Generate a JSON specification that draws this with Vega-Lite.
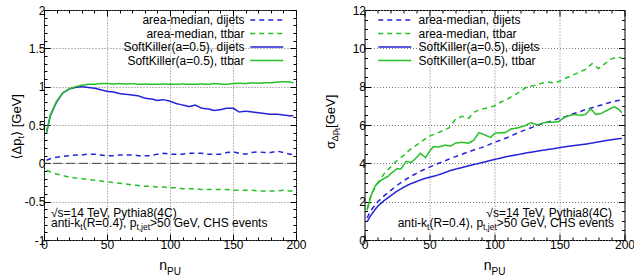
{
  "$schema": "https://vega.github.io/schema/vega-lite/v6.json",
  "padding": {"left": 10, "top": 3, "right": 0, "bottom": 0},
  "spacing": 16.5,
  "config": {
    "font": "Liberation Sans",
    "view": {"stroke": "black", "strokeWidth": 1},
    "text": {"font": "Liberation Sans, DejaVu Sans", "color": "black"}
  },
  "resolve": {
    "scale": {"color": "independent", "strokeDash": "independent"},
    "legend": {"color": "independent", "strokeDash": "independent"}
  },
  "datasets": {
    "mean": [
      {"n":2,"v":0.04,"s":"area-median, dijets"},{"n":5,"v":0.06,"s":"area-median, dijets"},{"n":10,"v":0.08,"s":"area-median, dijets"},{"n":15,"v":0.09,"s":"area-median, dijets"},{"n":20,"v":0.10,"s":"area-median, dijets"},{"n":25,"v":0.11,"s":"area-median, dijets"},{"n":30,"v":0.11,"s":"area-median, dijets"},{"n":35,"v":0.12,"s":"area-median, dijets"},{"n":40,"v":0.12,"s":"area-median, dijets"},{"n":45,"v":0.11,"s":"area-median, dijets"},{"n":50,"v":0.10,"s":"area-median, dijets"},{"n":55,"v":0.10,"s":"area-median, dijets"},{"n":60,"v":0.11,"s":"area-median, dijets"},{"n":65,"v":0.11,"s":"area-median, dijets"},{"n":70,"v":0.11,"s":"area-median, dijets"},{"n":75,"v":0.10,"s":"area-median, dijets"},{"n":80,"v":0.10,"s":"area-median, dijets"},{"n":85,"v":0.10,"s":"area-median, dijets"},{"n":90,"v":0.12,"s":"area-median, dijets"},{"n":95,"v":0.13,"s":"area-median, dijets"},{"n":100,"v":0.12,"s":"area-median, dijets"},{"n":105,"v":0.12,"s":"area-median, dijets"},{"n":110,"v":0.12,"s":"area-median, dijets"},{"n":115,"v":0.13,"s":"area-median, dijets"},{"n":120,"v":0.13,"s":"area-median, dijets"},{"n":125,"v":0.13,"s":"area-median, dijets"},{"n":130,"v":0.12,"s":"area-median, dijets"},{"n":135,"v":0.12,"s":"area-median, dijets"},{"n":140,"v":0.12,"s":"area-median, dijets"},{"n":145,"v":0.14,"s":"area-median, dijets"},{"n":150,"v":0.15,"s":"area-median, dijets"},{"n":155,"v":0.13,"s":"area-median, dijets"},{"n":160,"v":0.12,"s":"area-median, dijets"},{"n":165,"v":0.14,"s":"area-median, dijets"},{"n":170,"v":0.15,"s":"area-median, dijets"},{"n":175,"v":0.14,"s":"area-median, dijets"},{"n":180,"v":0.14,"s":"area-median, dijets"},{"n":185,"v":0.16,"s":"area-median, dijets"},{"n":190,"v":0.14,"s":"area-median, dijets"},{"n":195,"v":0.12,"s":"area-median, dijets"},{"n":198,"v":0.12,"s":"area-median, dijets"},
      {"n":2,"v":-0.09,"s":"area-median, ttbar"},{"n":5,"v":-0.11,"s":"area-median, ttbar"},{"n":10,"v":-0.14,"s":"area-median, ttbar"},{"n":15,"v":-0.16,"s":"area-median, ttbar"},{"n":20,"v":-0.18,"s":"area-median, ttbar"},{"n":25,"v":-0.19,"s":"area-median, ttbar"},{"n":30,"v":-0.20,"s":"area-median, ttbar"},{"n":35,"v":-0.21,"s":"area-median, ttbar"},{"n":40,"v":-0.22,"s":"area-median, ttbar"},{"n":45,"v":-0.23,"s":"area-median, ttbar"},{"n":50,"v":-0.24,"s":"area-median, ttbar"},{"n":55,"v":-0.25,"s":"area-median, ttbar"},{"n":60,"v":-0.26,"s":"area-median, ttbar"},{"n":65,"v":-0.27,"s":"area-median, ttbar"},{"n":70,"v":-0.28,"s":"area-median, ttbar"},{"n":75,"v":-0.29,"s":"area-median, ttbar"},{"n":80,"v":-0.30,"s":"area-median, ttbar"},{"n":85,"v":-0.30,"s":"area-median, ttbar"},{"n":90,"v":-0.31,"s":"area-median, ttbar"},{"n":95,"v":-0.31,"s":"area-median, ttbar"},{"n":100,"v":-0.32,"s":"area-median, ttbar"},{"n":105,"v":-0.32,"s":"area-median, ttbar"},{"n":110,"v":-0.33,"s":"area-median, ttbar"},{"n":115,"v":-0.33,"s":"area-median, ttbar"},{"n":120,"v":-0.33,"s":"area-median, ttbar"},{"n":125,"v":-0.34,"s":"area-median, ttbar"},{"n":130,"v":-0.34,"s":"area-median, ttbar"},{"n":135,"v":-0.34,"s":"area-median, ttbar"},{"n":140,"v":-0.34,"s":"area-median, ttbar"},{"n":145,"v":-0.34,"s":"area-median, ttbar"},{"n":150,"v":-0.35,"s":"area-median, ttbar"},{"n":155,"v":-0.35,"s":"area-median, ttbar"},{"n":160,"v":-0.35,"s":"area-median, ttbar"},{"n":165,"v":-0.35,"s":"area-median, ttbar"},{"n":170,"v":-0.36,"s":"area-median, ttbar"},{"n":175,"v":-0.36,"s":"area-median, ttbar"},{"n":180,"v":-0.36,"s":"area-median, ttbar"},{"n":185,"v":-0.36,"s":"area-median, ttbar"},{"n":190,"v":-0.35,"s":"area-median, ttbar"},{"n":195,"v":-0.36,"s":"area-median, ttbar"},{"n":198,"v":-0.36,"s":"area-median, ttbar"},
      {"n":2,"v":0.40,"s":"SoftKiller(a=0.5), dijets"},{"n":5,"v":0.62,"s":"SoftKiller(a=0.5), dijets"},{"n":10,"v":0.80,"s":"SoftKiller(a=0.5), dijets"},{"n":15,"v":0.92,"s":"SoftKiller(a=0.5), dijets"},{"n":20,"v":0.97,"s":"SoftKiller(a=0.5), dijets"},{"n":25,"v":0.99,"s":"SoftKiller(a=0.5), dijets"},{"n":30,"v":1.00,"s":"SoftKiller(a=0.5), dijets"},{"n":35,"v":0.99,"s":"SoftKiller(a=0.5), dijets"},{"n":40,"v":0.98,"s":"SoftKiller(a=0.5), dijets"},{"n":45,"v":0.96,"s":"SoftKiller(a=0.5), dijets"},{"n":50,"v":0.94,"s":"SoftKiller(a=0.5), dijets"},{"n":55,"v":0.93,"s":"SoftKiller(a=0.5), dijets"},{"n":60,"v":0.91,"s":"SoftKiller(a=0.5), dijets"},{"n":65,"v":0.90,"s":"SoftKiller(a=0.5), dijets"},{"n":70,"v":0.89,"s":"SoftKiller(a=0.5), dijets"},{"n":75,"v":0.88,"s":"SoftKiller(a=0.5), dijets"},{"n":80,"v":0.85,"s":"SoftKiller(a=0.5), dijets"},{"n":85,"v":0.84,"s":"SoftKiller(a=0.5), dijets"},{"n":90,"v":0.82,"s":"SoftKiller(a=0.5), dijets"},{"n":95,"v":0.83,"s":"SoftKiller(a=0.5), dijets"},{"n":100,"v":0.81,"s":"SoftKiller(a=0.5), dijets"},{"n":105,"v":0.78,"s":"SoftKiller(a=0.5), dijets"},{"n":110,"v":0.76,"s":"SoftKiller(a=0.5), dijets"},{"n":115,"v":0.74,"s":"SoftKiller(a=0.5), dijets"},{"n":120,"v":0.76,"s":"SoftKiller(a=0.5), dijets"},{"n":125,"v":0.72,"s":"SoftKiller(a=0.5), dijets"},{"n":130,"v":0.71,"s":"SoftKiller(a=0.5), dijets"},{"n":135,"v":0.69,"s":"SoftKiller(a=0.5), dijets"},{"n":140,"v":0.70,"s":"SoftKiller(a=0.5), dijets"},{"n":145,"v":0.72,"s":"SoftKiller(a=0.5), dijets"},{"n":150,"v":0.72,"s":"SoftKiller(a=0.5), dijets"},{"n":155,"v":0.67,"s":"SoftKiller(a=0.5), dijets"},{"n":160,"v":0.68,"s":"SoftKiller(a=0.5), dijets"},{"n":165,"v":0.67,"s":"SoftKiller(a=0.5), dijets"},{"n":170,"v":0.66,"s":"SoftKiller(a=0.5), dijets"},{"n":175,"v":0.65,"s":"SoftKiller(a=0.5), dijets"},{"n":180,"v":0.64,"s":"SoftKiller(a=0.5), dijets"},{"n":185,"v":0.64,"s":"SoftKiller(a=0.5), dijets"},{"n":190,"v":0.63,"s":"SoftKiller(a=0.5), dijets"},{"n":195,"v":0.62,"s":"SoftKiller(a=0.5), dijets"},{"n":198,"v":0.62,"s":"SoftKiller(a=0.5), dijets"},
      {"n":2,"v":0.40,"s":"SoftKiller(a=0.5), ttbar"},{"n":5,"v":0.63,"s":"SoftKiller(a=0.5), ttbar"},{"n":10,"v":0.81,"s":"SoftKiller(a=0.5), ttbar"},{"n":15,"v":0.92,"s":"SoftKiller(a=0.5), ttbar"},{"n":20,"v":0.97,"s":"SoftKiller(a=0.5), ttbar"},{"n":25,"v":1.00,"s":"SoftKiller(a=0.5), ttbar"},{"n":30,"v":1.02,"s":"SoftKiller(a=0.5), ttbar"},{"n":35,"v":1.03,"s":"SoftKiller(a=0.5), ttbar"},{"n":40,"v":1.03,"s":"SoftKiller(a=0.5), ttbar"},{"n":45,"v":1.04,"s":"SoftKiller(a=0.5), ttbar"},{"n":50,"v":1.04,"s":"SoftKiller(a=0.5), ttbar"},{"n":55,"v":1.035,"s":"SoftKiller(a=0.5), ttbar"},{"n":60,"v":1.04,"s":"SoftKiller(a=0.5), ttbar"},{"n":65,"v":1.035,"s":"SoftKiller(a=0.5), ttbar"},{"n":70,"v":1.04,"s":"SoftKiller(a=0.5), ttbar"},{"n":75,"v":1.03,"s":"SoftKiller(a=0.5), ttbar"},{"n":80,"v":1.035,"s":"SoftKiller(a=0.5), ttbar"},{"n":85,"v":1.03,"s":"SoftKiller(a=0.5), ttbar"},{"n":90,"v":1.03,"s":"SoftKiller(a=0.5), ttbar"},{"n":95,"v":1.035,"s":"SoftKiller(a=0.5), ttbar"},{"n":100,"v":1.03,"s":"SoftKiller(a=0.5), ttbar"},{"n":105,"v":1.03,"s":"SoftKiller(a=0.5), ttbar"},{"n":110,"v":1.035,"s":"SoftKiller(a=0.5), ttbar"},{"n":115,"v":1.03,"s":"SoftKiller(a=0.5), ttbar"},{"n":120,"v":1.03,"s":"SoftKiller(a=0.5), ttbar"},{"n":125,"v":1.035,"s":"SoftKiller(a=0.5), ttbar"},{"n":130,"v":1.03,"s":"SoftKiller(a=0.5), ttbar"},{"n":135,"v":1.04,"s":"SoftKiller(a=0.5), ttbar"},{"n":140,"v":1.035,"s":"SoftKiller(a=0.5), ttbar"},{"n":145,"v":1.03,"s":"SoftKiller(a=0.5), ttbar"},{"n":150,"v":1.04,"s":"SoftKiller(a=0.5), ttbar"},{"n":155,"v":1.045,"s":"SoftKiller(a=0.5), ttbar"},{"n":160,"v":1.04,"s":"SoftKiller(a=0.5), ttbar"},{"n":165,"v":1.05,"s":"SoftKiller(a=0.5), ttbar"},{"n":170,"v":1.045,"s":"SoftKiller(a=0.5), ttbar"},{"n":175,"v":1.05,"s":"SoftKiller(a=0.5), ttbar"},{"n":180,"v":1.05,"s":"SoftKiller(a=0.5), ttbar"},{"n":185,"v":1.06,"s":"SoftKiller(a=0.5), ttbar"},{"n":190,"v":1.065,"s":"SoftKiller(a=0.5), ttbar"},{"n":195,"v":1.06,"s":"SoftKiller(a=0.5), ttbar"},{"n":198,"v":1.05,"s":"SoftKiller(a=0.5), ttbar"}
    ],
    "sigma": [
      {"n":2,"v":1.15,"s":"area-median, dijets"},{"n":5,"v":1.55,"s":"area-median, dijets"},{"n":10,"v":1.98,"s":"area-median, dijets"},{"n":15,"v":2.3,"s":"area-median, dijets"},{"n":20,"v":2.58,"s":"area-median, dijets"},{"n":25,"v":2.85,"s":"area-median, dijets"},{"n":30,"v":3.08,"s":"area-median, dijets"},{"n":35,"v":3.3,"s":"area-median, dijets"},{"n":40,"v":3.48,"s":"area-median, dijets"},{"n":45,"v":3.65,"s":"area-median, dijets"},{"n":50,"v":3.8,"s":"area-median, dijets"},{"n":55,"v":3.95,"s":"area-median, dijets"},{"n":60,"v":4.08,"s":"area-median, dijets"},{"n":65,"v":4.22,"s":"area-median, dijets"},{"n":70,"v":4.35,"s":"area-median, dijets"},{"n":75,"v":4.47,"s":"area-median, dijets"},{"n":80,"v":4.6,"s":"area-median, dijets"},{"n":85,"v":4.72,"s":"area-median, dijets"},{"n":90,"v":4.82,"s":"area-median, dijets"},{"n":95,"v":4.95,"s":"area-median, dijets"},{"n":100,"v":5.1,"s":"area-median, dijets"},{"n":105,"v":5.22,"s":"area-median, dijets"},{"n":110,"v":5.35,"s":"area-median, dijets"},{"n":115,"v":5.5,"s":"area-median, dijets"},{"n":120,"v":5.65,"s":"area-median, dijets"},{"n":125,"v":5.78,"s":"area-median, dijets"},{"n":130,"v":5.9,"s":"area-median, dijets"},{"n":135,"v":6.02,"s":"area-median, dijets"},{"n":140,"v":6.13,"s":"area-median, dijets"},{"n":145,"v":6.24,"s":"area-median, dijets"},{"n":150,"v":6.35,"s":"area-median, dijets"},{"n":155,"v":6.45,"s":"area-median, dijets"},{"n":160,"v":6.57,"s":"area-median, dijets"},{"n":165,"v":6.68,"s":"area-median, dijets"},{"n":170,"v":6.8,"s":"area-median, dijets"},{"n":175,"v":6.9,"s":"area-median, dijets"},{"n":180,"v":7.0,"s":"area-median, dijets"},{"n":185,"v":7.1,"s":"area-median, dijets"},{"n":190,"v":7.2,"s":"area-median, dijets"},{"n":195,"v":7.28,"s":"area-median, dijets"},{"n":198,"v":7.3,"s":"area-median, dijets"},
      {"n":2,"v":1.6,"s":"area-median, ttbar"},{"n":5,"v":2.35,"s":"area-median, ttbar"},{"n":10,"v":2.95,"s":"area-median, ttbar"},{"n":15,"v":3.45,"s":"area-median, ttbar"},{"n":20,"v":3.8,"s":"area-median, ttbar"},{"n":25,"v":4.15,"s":"area-median, ttbar"},{"n":30,"v":4.4,"s":"area-median, ttbar"},{"n":35,"v":4.72,"s":"area-median, ttbar"},{"n":40,"v":4.95,"s":"area-median, ttbar"},{"n":45,"v":5.2,"s":"area-median, ttbar"},{"n":50,"v":5.42,"s":"area-median, ttbar"},{"n":55,"v":5.55,"s":"area-median, ttbar"},{"n":60,"v":5.7,"s":"area-median, ttbar"},{"n":65,"v":5.85,"s":"area-median, ttbar"},{"n":70,"v":6.3,"s":"area-median, ttbar"},{"n":75,"v":6.45,"s":"area-median, ttbar"},{"n":80,"v":6.35,"s":"area-median, ttbar"},{"n":85,"v":6.7,"s":"area-median, ttbar"},{"n":90,"v":6.82,"s":"area-median, ttbar"},{"n":95,"v":6.9,"s":"area-median, ttbar"},{"n":100,"v":7.0,"s":"area-median, ttbar"},{"n":105,"v":7.2,"s":"area-median, ttbar"},{"n":110,"v":7.35,"s":"area-median, ttbar"},{"n":115,"v":7.55,"s":"area-median, ttbar"},{"n":120,"v":7.75,"s":"area-median, ttbar"},{"n":125,"v":8.0,"s":"area-median, ttbar"},{"n":130,"v":8.05,"s":"area-median, ttbar"},{"n":135,"v":8.15,"s":"area-median, ttbar"},{"n":140,"v":8.25,"s":"area-median, ttbar"},{"n":145,"v":8.2,"s":"area-median, ttbar"},{"n":150,"v":8.28,"s":"area-median, ttbar"},{"n":155,"v":8.45,"s":"area-median, ttbar"},{"n":160,"v":8.6,"s":"area-median, ttbar"},{"n":165,"v":8.75,"s":"area-median, ttbar"},{"n":170,"v":8.9,"s":"area-median, ttbar"},{"n":175,"v":9.2,"s":"area-median, ttbar"},{"n":180,"v":8.95,"s":"area-median, ttbar"},{"n":185,"v":9.2,"s":"area-median, ttbar"},{"n":190,"v":9.45,"s":"area-median, ttbar"},{"n":195,"v":9.55,"s":"area-median, ttbar"},{"n":198,"v":9.5,"s":"area-median, ttbar"},
      {"n":2,"v":0.95,"s":"SoftKiller(a=0.5), dijets"},{"n":5,"v":1.3,"s":"SoftKiller(a=0.5), dijets"},{"n":10,"v":1.75,"s":"SoftKiller(a=0.5), dijets"},{"n":15,"v":2.05,"s":"SoftKiller(a=0.5), dijets"},{"n":20,"v":2.3,"s":"SoftKiller(a=0.5), dijets"},{"n":25,"v":2.55,"s":"SoftKiller(a=0.5), dijets"},{"n":30,"v":2.75,"s":"SoftKiller(a=0.5), dijets"},{"n":35,"v":2.92,"s":"SoftKiller(a=0.5), dijets"},{"n":40,"v":3.05,"s":"SoftKiller(a=0.5), dijets"},{"n":45,"v":3.18,"s":"SoftKiller(a=0.5), dijets"},{"n":50,"v":3.27,"s":"SoftKiller(a=0.5), dijets"},{"n":55,"v":3.36,"s":"SoftKiller(a=0.5), dijets"},{"n":60,"v":3.47,"s":"SoftKiller(a=0.5), dijets"},{"n":65,"v":3.6,"s":"SoftKiller(a=0.5), dijets"},{"n":70,"v":3.7,"s":"SoftKiller(a=0.5), dijets"},{"n":75,"v":3.78,"s":"SoftKiller(a=0.5), dijets"},{"n":80,"v":3.87,"s":"SoftKiller(a=0.5), dijets"},{"n":85,"v":3.95,"s":"SoftKiller(a=0.5), dijets"},{"n":90,"v":4.03,"s":"SoftKiller(a=0.5), dijets"},{"n":95,"v":4.12,"s":"SoftKiller(a=0.5), dijets"},{"n":100,"v":4.2,"s":"SoftKiller(a=0.5), dijets"},{"n":105,"v":4.28,"s":"SoftKiller(a=0.5), dijets"},{"n":110,"v":4.36,"s":"SoftKiller(a=0.5), dijets"},{"n":115,"v":4.42,"s":"SoftKiller(a=0.5), dijets"},{"n":120,"v":4.48,"s":"SoftKiller(a=0.5), dijets"},{"n":125,"v":4.55,"s":"SoftKiller(a=0.5), dijets"},{"n":130,"v":4.6,"s":"SoftKiller(a=0.5), dijets"},{"n":135,"v":4.66,"s":"SoftKiller(a=0.5), dijets"},{"n":140,"v":4.71,"s":"SoftKiller(a=0.5), dijets"},{"n":145,"v":4.76,"s":"SoftKiller(a=0.5), dijets"},{"n":150,"v":4.82,"s":"SoftKiller(a=0.5), dijets"},{"n":155,"v":4.87,"s":"SoftKiller(a=0.5), dijets"},{"n":160,"v":4.92,"s":"SoftKiller(a=0.5), dijets"},{"n":165,"v":4.96,"s":"SoftKiller(a=0.5), dijets"},{"n":170,"v":5.0,"s":"SoftKiller(a=0.5), dijets"},{"n":175,"v":5.06,"s":"SoftKiller(a=0.5), dijets"},{"n":180,"v":5.12,"s":"SoftKiller(a=0.5), dijets"},{"n":185,"v":5.18,"s":"SoftKiller(a=0.5), dijets"},{"n":190,"v":5.23,"s":"SoftKiller(a=0.5), dijets"},{"n":195,"v":5.28,"s":"SoftKiller(a=0.5), dijets"},{"n":198,"v":5.3,"s":"SoftKiller(a=0.5), dijets"},
      {"n":2,"v":1.55,"s":"SoftKiller(a=0.5), ttbar"},{"n":5,"v":2.3,"s":"SoftKiller(a=0.5), ttbar"},{"n":8,"v":2.8,"s":"SoftKiller(a=0.5), ttbar"},{"n":10,"v":2.95,"s":"SoftKiller(a=0.5), ttbar"},{"n":13,"v":3.13,"s":"SoftKiller(a=0.5), ttbar"},{"n":15,"v":3.2,"s":"SoftKiller(a=0.5), ttbar"},{"n":18,"v":3.32,"s":"SoftKiller(a=0.5), ttbar"},{"n":20,"v":3.45,"s":"SoftKiller(a=0.5), ttbar"},{"n":25,"v":3.72,"s":"SoftKiller(a=0.5), ttbar"},{"n":28,"v":3.7,"s":"SoftKiller(a=0.5), ttbar"},{"n":32,"v":4.1,"s":"SoftKiller(a=0.5), ttbar"},{"n":36,"v":4.05,"s":"SoftKiller(a=0.5), ttbar"},{"n":40,"v":4.3,"s":"SoftKiller(a=0.5), ttbar"},{"n":43,"v":4.52,"s":"SoftKiller(a=0.5), ttbar"},{"n":47,"v":4.3,"s":"SoftKiller(a=0.5), ttbar"},{"n":50,"v":4.62,"s":"SoftKiller(a=0.5), ttbar"},{"n":53,"v":4.87,"s":"SoftKiller(a=0.5), ttbar"},{"n":57,"v":4.85,"s":"SoftKiller(a=0.5), ttbar"},{"n":62,"v":4.95,"s":"SoftKiller(a=0.5), ttbar"},{"n":66,"v":4.9,"s":"SoftKiller(a=0.5), ttbar"},{"n":70,"v":5.05,"s":"SoftKiller(a=0.5), ttbar"},{"n":75,"v":5.1,"s":"SoftKiller(a=0.5), ttbar"},{"n":80,"v":5.05,"s":"SoftKiller(a=0.5), ttbar"},{"n":84,"v":5.2,"s":"SoftKiller(a=0.5), ttbar"},{"n":88,"v":5.6,"s":"SoftKiller(a=0.5), ttbar"},{"n":92,"v":5.5,"s":"SoftKiller(a=0.5), ttbar"},{"n":97,"v":5.35,"s":"SoftKiller(a=0.5), ttbar"},{"n":100,"v":5.55,"s":"SoftKiller(a=0.5), ttbar"},{"n":103,"v":5.6,"s":"SoftKiller(a=0.5), ttbar"},{"n":108,"v":5.6,"s":"SoftKiller(a=0.5), ttbar"},{"n":113,"v":5.8,"s":"SoftKiller(a=0.5), ttbar"},{"n":118,"v":5.85,"s":"SoftKiller(a=0.5), ttbar"},{"n":123,"v":5.95,"s":"SoftKiller(a=0.5), ttbar"},{"n":128,"v":6.12,"s":"SoftKiller(a=0.5), ttbar"},{"n":133,"v":6.0,"s":"SoftKiller(a=0.5), ttbar"},{"n":137,"v":6.1,"s":"SoftKiller(a=0.5), ttbar"},{"n":141,"v":6.15,"s":"SoftKiller(a=0.5), ttbar"},{"n":145,"v":6.15,"s":"SoftKiller(a=0.5), ttbar"},{"n":149,"v":6.17,"s":"SoftKiller(a=0.5), ttbar"},{"n":154,"v":6.4,"s":"SoftKiller(a=0.5), ttbar"},{"n":158,"v":6.5,"s":"SoftKiller(a=0.5), ttbar"},{"n":162,"v":6.55,"s":"SoftKiller(a=0.5), ttbar"},{"n":166,"v":6.5,"s":"SoftKiller(a=0.5), ttbar"},{"n":170,"v":6.55,"s":"SoftKiller(a=0.5), ttbar"},{"n":174,"v":6.85,"s":"SoftKiller(a=0.5), ttbar"},{"n":178,"v":6.55,"s":"SoftKiller(a=0.5), ttbar"},{"n":182,"v":6.6,"s":"SoftKiller(a=0.5), ttbar"},{"n":187,"v":6.78,"s":"SoftKiller(a=0.5), ttbar"},{"n":192,"v":6.95,"s":"SoftKiller(a=0.5), ttbar"},{"n":195,"v":6.85,"s":"SoftKiller(a=0.5), ttbar"},{"n":198,"v":6.64,"s":"SoftKiller(a=0.5), ttbar"}
    ]
  },
  "hconcat": [
    {
      "width": 252,
      "height": 230,
      "resolve": {"axis": {"x": "independent", "y": "independent"}},
      "layer": [
        {
          "data": {"name": "mean"},
          "mark": {"type": "line", "strokeWidth": 1.5},
          "encoding": {
            "x": {"field": "n", "type": "quantitative", "scale": {"domain": [0, 200], "nice": false, "zero": false},
              "axis": {"orient": "bottom", "title": null, "domain": false, "values": [0,10,20,30,40,50,60,70,80,90,100,110,120,130,140,150,160,170,180,190,200],
                "labelExpr": "datum.value % 50 === 0 ? toString(datum.value) : ''", "labelFlush": false, "labelOverlap": false, "labelFontSize": 12, "labelColor": "black", "labelPadding": 5,
                "tickColor": "black", "tickSize": {"condition": {"test": "datum.value % 50 === 0", "value": -6}, "value": -3},
                "grid": true, "gridColor": "#777777", "gridDash": [1, 2], "gridOpacity": {"condition": {"test": "datum.value % 50 === 0", "value": 1}, "value": 0}}},
            "y": {"field": "v", "type": "quantitative", "scale": {"domain": [-1, 2], "nice": false, "zero": false},
              "axis": {"orient": "left", "title": null, "domain": false, "values": [-1,-0.9,-0.8,-0.7,-0.6,-0.5,-0.4,-0.3,-0.2,-0.1,0,0.1,0.2,0.3,0.4,0.5,0.6,0.7,0.8,0.9,1,1.1,1.2,1.3,1.4,1.5,1.6,1.7,1.8,1.9,2],
                "labelExpr": "abs(datum.value * 2 - round(datum.value * 2)) < 0.000001 ? toString(datum.value) : ''", "labelOverlap": false, "labelFlush": false, "labelFontSize": 12, "labelColor": "black", "labelPadding": 5,
                "tickColor": "black", "tickSize": {"condition": {"test": "abs(datum.value * 2 - round(datum.value * 2)) < 0.000001", "value": -6}, "value": -3},
                "grid": true, "gridColor": "#777777", "gridDash": [1, 2], "gridOpacity": {"condition": {"test": "abs(datum.value * 2 - round(datum.value * 2)) < 0.000001", "value": 1}, "value": 0}}},
            "color": {"field": "s", "type": "nominal",
              "scale": {"domain": ["area-median, dijets", "area-median, ttbar", "SoftKiller(a=0.5), dijets", "SoftKiller(a=0.5), ttbar"], "range": ["#2323d8", "#25c025", "#2323d8", "#25c025"]},
              "legend": {"orient": "none", "legendX": 216.75, "legendY": 4, "title": null, "padding": 0, "rowPadding": 1.5, "symbolType": "M-3.3,0H3.3", "symbolSize": 100, "symbolStrokeWidth": 1.5, "labelFont": "Liberation Sans", "labelFontSize": 12, "labelColor": "black", "labelAlign": "right", "labelOffset": -28.25, "labelLimit": 300}},
            "strokeDash": {"field": "s", "type": "nominal",
              "scale": {"domain": ["area-median, dijets", "area-median, ttbar", "SoftKiller(a=0.5), dijets", "SoftKiller(a=0.5), ttbar"], "range": [[5, 4], [5, 4], [1, 0], [1, 0]]},
              "legend": {"orient": "none", "legendX": 216.75, "legendY": 4, "title": null, "padding": 0, "rowPadding": 1.5, "symbolType": "M-3.3,0H3.3", "symbolSize": 100, "symbolStrokeWidth": 1.5, "labelFont": "Liberation Sans", "labelFontSize": 12, "labelColor": "black", "labelAlign": "right", "labelOffset": -28.25, "labelLimit": 300}}
          }
        },
        {
          "data": {"values": [{}]},
          "mark": {"type": "rule", "stroke": "#444444", "strokeWidth": 1, "strokeDash": [9, 4]},
          "encoding": {"y": {"datum": 0, "type": "quantitative", "scale": {"domain": [-1, 2], "nice": false, "zero": false}, "axis": null}}
        },
        {
          "data": {"values": [{}]},
          "mark": {"type": "text", "text": "√s=14 TeV, Pythia8(4C)", "align": "left", "baseline": "alphabetic", "fontSize": 12, "dx": 7, "dy": -23},
          "encoding": {
            "x": {"datum": 0, "type": "quantitative", "scale": {"domain": [0, 200], "nice": false, "zero": false},
              "axis": {"orient": "top", "title": null, "labels": false, "domain": false, "grid": false, "values": [0,10,20,30,40,50,60,70,80,90,100,110,120,130,140,150,160,170,180,190,200],
                "tickColor": "black", "tickSize": {"condition": {"test": "datum.value % 50 === 0", "value": -6}, "value": -3}}},
            "y": {"datum": -1, "type": "quantitative", "scale": {"domain": [-1, 2], "nice": false, "zero": false},
              "axis": {"orient": "right", "title": null, "labels": false, "domain": false, "grid": false, "values": [-1,-0.9,-0.8,-0.7,-0.6,-0.5,-0.4,-0.3,-0.2,-0.1,0,0.1,0.2,0.3,0.4,0.5,0.6,0.7,0.8,0.9,1,1.1,1.2,1.3,1.4,1.5,1.6,1.7,1.8,1.9,2],
                "tickColor": "black", "tickSize": {"condition": {"test": "abs(datum.value * 2 - round(datum.value * 2)) < 0.000001", "value": -6}, "value": -3}}}
          }
        },
        {
          "data": {"values": [{}]},
          "layer": [
            {"mark": {"type": "text", "text": "anti-k", "align": "left", "baseline": "alphabetic", "fontSize": 12, "dx": 7, "dy": -13}},
            {"mark": {"type": "text", "text": "t", "align": "left", "baseline": "alphabetic", "fontSize": 8.5, "dx": 36.3, "dy": -10}},
            {"mark": {"type": "text", "text": "(R=0.4), p", "align": "left", "baseline": "alphabetic", "fontSize": 12, "dx": 38.7, "dy": -13}},
            {"mark": {"type": "text", "text": "t,jet", "align": "left", "baseline": "alphabetic", "fontSize": 8.5, "dx": 92.4, "dy": -10}},
            {"mark": {"type": "text", "text": ">50 GeV, CHS events", "align": "left", "baseline": "alphabetic", "fontSize": 12, "dx": 106.1, "dy": -13}}
          ],
          "encoding": {
            "x": {"datum": 0, "type": "quantitative", "scale": {"domain": [0, 200], "nice": false, "zero": false}, "axis": null},
            "y": {"datum": -1, "type": "quantitative", "scale": {"domain": [-1, 2], "nice": false, "zero": false}, "axis": null}
          }
        },
        {
          "data": {"values": [{}]},
          "layer": [
            {"mark": {"type": "text", "text": "⟨Δp", "align": "left", "baseline": "alphabetic", "fontSize": 13, "angle": 270, "dx": -34.5, "dy": -23.5}},
            {"mark": {"type": "text", "text": "t", "align": "left", "baseline": "alphabetic", "fontSize": 9, "angle": 270, "dx": -13.5, "dy": -20.5}},
            {"mark": {"type": "text", "text": "⟩ [GeV]", "align": "left", "baseline": "alphabetic", "fontSize": 13, "angle": 270, "dx": -11, "dy": -23.5}}
          ],
          "encoding": {
            "x": {"datum": 0, "type": "quantitative", "scale": {"domain": [0, 200], "nice": false, "zero": false}, "axis": null},
            "y": {"datum": 0.5, "type": "quantitative", "scale": {"domain": [-1, 2], "nice": false, "zero": false}, "axis": null}
          }
        },
        {
          "data": {"values": [{}]},
          "layer": [
            {"mark": {"type": "text", "text": "n", "align": "left", "baseline": "alphabetic", "fontSize": 14, "dx": -10.8, "dy": 30}},
            {"mark": {"type": "text", "text": "PU", "align": "left", "baseline": "alphabetic", "fontSize": 10, "dx": -3, "dy": 35}}
          ],
          "encoding": {
            "x": {"datum": 100, "type": "quantitative", "scale": {"domain": [0, 200], "nice": false, "zero": false}, "axis": null},
            "y": {"datum": -1, "type": "quantitative", "scale": {"domain": [-1, 2], "nice": false, "zero": false}, "axis": null}
          }
        }
      ]
    },
    {
      "width": 260,
      "height": 230,
      "resolve": {"axis": {"x": "independent", "y": "independent"}},
      "layer": [
        {
          "data": {"name": "sigma"},
          "mark": {"type": "line", "strokeWidth": 1.5},
          "encoding": {
            "x": {"field": "n", "type": "quantitative", "scale": {"domain": [0, 200], "nice": false, "zero": false},
              "axis": {"orient": "bottom", "title": null, "domain": false, "values": [0,10,20,30,40,50,60,70,80,90,100,110,120,130,140,150,160,170,180,190,200],
                "labelExpr": "datum.value % 50 === 0 ? toString(datum.value) : ''", "labelFlush": false, "labelOverlap": false, "labelFontSize": 12, "labelColor": "black", "labelPadding": 5,
                "tickColor": "black", "tickSize": {"condition": {"test": "datum.value % 50 === 0", "value": -6}, "value": -3},
                "grid": true, "gridColor": "#777777", "gridDash": [1, 2], "gridOpacity": {"condition": {"test": "datum.value % 50 === 0", "value": 1}, "value": 0}}},
            "y": {"field": "v", "type": "quantitative", "scale": {"domain": [0, 12], "nice": false, "zero": false},
              "axis": {"orient": "left", "title": null, "domain": false, "values": [0,0.5,1,1.5,2,2.5,3,3.5,4,4.5,5,5.5,6,6.5,7,7.5,8,8.5,9,9.5,10,10.5,11,11.5,12],
                "labelExpr": "datum.value % 2 === 0 ? toString(datum.value) : ''", "labelOverlap": false, "labelFlush": false, "labelFontSize": 12, "labelColor": "black", "labelPadding": 5,
                "tickColor": "black", "tickSize": {"condition": {"test": "datum.value % 2 === 0", "value": -6}, "value": -3},
                "grid": true, "gridColor": "#777777", "gridDash": [1, 2], "gridOpacity": {"condition": {"test": "datum.value % 2 === 0", "value": 1}, "value": 0}}},
            "color": {"field": "s", "type": "nominal",
              "scale": {"domain": ["area-median, dijets", "area-median, ttbar", "SoftKiller(a=0.5), dijets", "SoftKiller(a=0.5), ttbar"], "range": ["#2323d8", "#25c025", "#2323d8", "#25c025"]},
              "legend": {"orient": "none", "legendX": 24.25, "legendY": 4, "title": null, "padding": 0, "rowPadding": 1.5, "symbolType": "M-3.3,0H3.3", "symbolSize": 100, "symbolStrokeWidth": 1.5, "labelFont": "Liberation Sans", "labelFontSize": 12, "labelColor": "black", "labelAlign": "left", "labelOffset": 17.75, "labelLimit": 300}},
            "strokeDash": {"field": "s", "type": "nominal",
              "scale": {"domain": ["area-median, dijets", "area-median, ttbar", "SoftKiller(a=0.5), dijets", "SoftKiller(a=0.5), ttbar"], "range": [[5, 4], [5, 4], [1, 0], [1, 0]]},
              "legend": {"orient": "none", "legendX": 24.25, "legendY": 4, "title": null, "padding": 0, "rowPadding": 1.5, "symbolType": "M-3.3,0H3.3", "symbolSize": 100, "symbolStrokeWidth": 1.5, "labelFont": "Liberation Sans", "labelFontSize": 12, "labelColor": "black", "labelAlign": "left", "labelOffset": 17.75, "labelLimit": 300}}
          }
        },
        {
          "data": {"values": [{}]},
          "mark": {"type": "text", "text": "√s=14 TeV, Pythia8(4C)", "align": "right", "baseline": "alphabetic", "fontSize": 12, "dx": -12.5, "dy": -23},
          "encoding": {
            "x": {"datum": 200, "type": "quantitative", "scale": {"domain": [0, 200], "nice": false, "zero": false},
              "axis": {"orient": "top", "title": null, "labels": false, "domain": false, "grid": false, "values": [0,10,20,30,40,50,60,70,80,90,100,110,120,130,140,150,160,170,180,190,200],
                "tickColor": "black", "tickSize": {"condition": {"test": "datum.value % 50 === 0", "value": -6}, "value": -3}}},
            "y": {"datum": 0, "type": "quantitative", "scale": {"domain": [0, 12], "nice": false, "zero": false},
              "axis": {"orient": "right", "title": null, "labels": false, "domain": false, "grid": false, "values": [0,0.5,1,1.5,2,2.5,3,3.5,4,4.5,5,5.5,6,6.5,7,7.5,8,8.5,9,9.5,10,10.5,11,11.5,12],
                "tickColor": "black", "tickSize": {"condition": {"test": "datum.value % 2 === 0", "value": -6}, "value": -3}}}
          }
        },
        {
          "data": {"values": [{}]},
          "layer": [
            {"mark": {"type": "text", "text": "anti-k", "align": "left", "baseline": "alphabetic", "fontSize": 12, "dx": -226.8, "dy": -13}},
            {"mark": {"type": "text", "text": "t", "align": "left", "baseline": "alphabetic", "fontSize": 8.5, "dx": -197.5, "dy": -10}},
            {"mark": {"type": "text", "text": "(R=0.4), p", "align": "left", "baseline": "alphabetic", "fontSize": 12, "dx": -195.1, "dy": -13}},
            {"mark": {"type": "text", "text": "t,jet", "align": "left", "baseline": "alphabetic", "fontSize": 8.5, "dx": -141.4, "dy": -10}},
            {"mark": {"type": "text", "text": ">50 GeV, CHS events", "align": "left", "baseline": "alphabetic", "fontSize": 12, "dx": -127.7, "dy": -13}}
          ],
          "encoding": {
            "x": {"datum": 200, "type": "quantitative", "scale": {"domain": [0, 200], "nice": false, "zero": false}, "axis": null},
            "y": {"datum": 0, "type": "quantitative", "scale": {"domain": [0, 12], "nice": false, "zero": false}, "axis": null}
          }
        },
        {
          "data": {"values": [{}]},
          "layer": [
            {"mark": {"type": "text", "text": "σ", "align": "left", "baseline": "alphabetic", "fontSize": 13, "angle": 270, "dx": -24, "dy": -30}},
            {"mark": {"type": "text", "text": "Δp", "align": "left", "baseline": "alphabetic", "fontSize": 9.5, "angle": 270, "dx": -16.5, "dy": -26.5}},
            {"mark": {"type": "text", "text": "t", "align": "left", "baseline": "alphabetic", "fontSize": 7, "angle": 270, "dx": -4.9, "dy": -24.5}},
            {"mark": {"type": "text", "text": " [GeV]", "align": "left", "baseline": "alphabetic", "fontSize": 13, "angle": 270, "dx": -2.9, "dy": -30}}
          ],
          "encoding": {
            "x": {"datum": 0, "type": "quantitative", "scale": {"domain": [0, 200], "nice": false, "zero": false}, "axis": null},
            "y": {"datum": 6, "type": "quantitative", "scale": {"domain": [0, 12], "nice": false, "zero": false}, "axis": null}
          }
        },
        {
          "data": {"values": [{}]},
          "layer": [
            {"mark": {"type": "text", "text": "n", "align": "left", "baseline": "alphabetic", "fontSize": 14, "dx": -10.8, "dy": 30}},
            {"mark": {"type": "text", "text": "PU", "align": "left", "baseline": "alphabetic", "fontSize": 10, "dx": -3, "dy": 35}}
          ],
          "encoding": {
            "x": {"datum": 100, "type": "quantitative", "scale": {"domain": [0, 200], "nice": false, "zero": false}, "axis": null},
            "y": {"datum": 0, "type": "quantitative", "scale": {"domain": [0, 12], "nice": false, "zero": false}, "axis": null}
          }
        }
      ]
    }
  ]
}
